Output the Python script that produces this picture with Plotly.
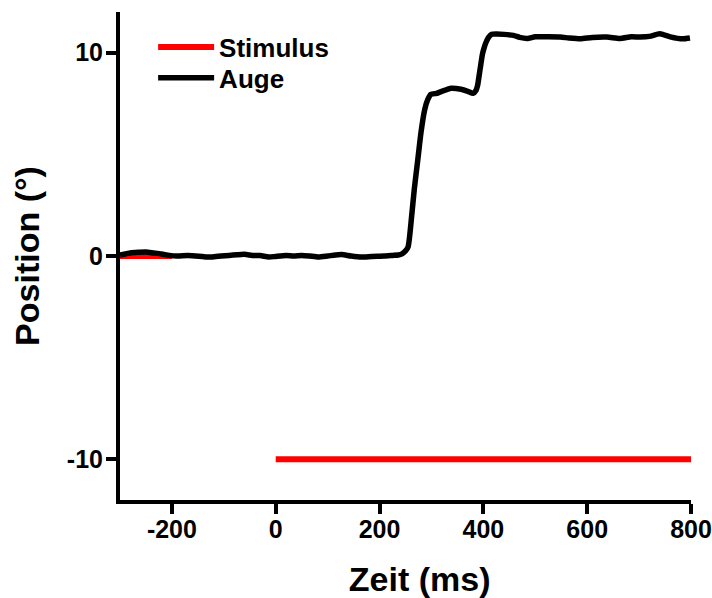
import plotly.graph_objects as go

# Stimulus trace (ms, degrees); None marks the gap
stim_t = [-300, -200, None, 0, 800]
stim_pos = [0, 0, None, -10, -10]

# Eye trace (ms, degrees)
eye_t = [-300, -290, -280, -265, -250, -235, -220, -205, -190, -170, -155, -140,
         -123, -105, -90, -75, -60, -45, -30, -13, 0, 20, 35, 50, 65, 82, 100,
         115, 127, 145, 165, 185, 209, 225, 236, 244, 250, 255, 262, 267, 274,
         280, 287, 293, 299, 310, 320, 338, 357, 370, 380, 386, 389, 392, 395,
         398, 401, 405, 410, 416, 425, 440, 458, 470, 485, 500, 523, 548, 565,
         587, 610, 638, 663, 685, 702, 720, 740, 760, 784, 798]
eye_pos = [0.05, 0.10, 0.15, 0.18, 0.20, 0.15, 0.10, 0.03, 0.00, 0.02, 0.00, -0.03,
           -0.05, 0.00, 0.03, 0.06, 0.08, 0.03, 0.02, -0.05, -0.02, 0.02, 0.00, 0.03,
           0.00, -0.05, 0.00, 0.05, 0.07, 0.00, -0.05, -0.02, 0.00, 0.03, 0.05, 0.12,
           0.25, 0.45, 2.0, 3.3, 4.8, 6.1, 7.2, 7.7, 7.95, 8.0, 8.1, 8.25, 8.2, 8.1,
           8.0, 8.15, 8.4, 8.9, 9.4, 9.9, 10.2, 10.5, 10.75, 10.9, 10.92, 10.9, 10.85,
           10.75, 10.7, 10.78, 10.78, 10.77, 10.72, 10.68, 10.75, 10.77, 10.7, 10.78,
           10.77, 10.8, 10.93, 10.78, 10.68, 10.72]

x_ticks = [-200, 0, 200, 400, 600, 800]
x_ticktext = ["-200", "0", "200", "400", "600", "800"]
y_ticks = [-10, 0, 10]
y_ticktext = ["-10", "0", "10"]

FONT = "Liberation Sans, Arial, sans-serif"

fig = go.Figure()
fig.add_trace(go.Scatter(x=stim_t, y=stim_pos, mode="lines", name="Stimulus",
                         line=dict(color="#ff0000", width=6), connectgaps=False,
                         legend="legend"))
fig.add_trace(go.Scatter(x=eye_t, y=eye_pos, mode="lines", name="Auge",
                         line=dict(color="#000000", width=5.5, shape="spline", smoothing=0.6),
                         legend="legend2"))

axis_common = dict(showgrid=False, zeroline=False, showline=True, linecolor="black",
                   linewidth=4, ticks="outside", ticklen=10, tickwidth=4, tickcolor="black",
                   automargin=False,
                   tickfont=dict(family=FONT, size=25, color="black", weight="bold"))

fig.update_xaxes(range=[-300, 800], tickvals=x_ticks, ticktext=x_ticktext,
                 ticklabelstandoff=-6,
                 title=dict(text="&nbsp;&nbsp;&nbsp;Zeit (ms)",
                            font=dict(family=FONT, size=34, color="black", weight="bold"),
                            standoff=26),
                 **axis_common)
fig.update_yaxes(range=[-12, 12], tickvals=y_ticks, ticktext=y_ticktext,
                 ticklabelstandoff=-2,
                 title=dict(text="Position (°)",
                            font=dict(family=FONT, size=34, color="black", weight="bold"),
                            standoff=18),
                 **axis_common)

leg_common = dict(xanchor="left", yanchor="middle",
                  font=dict(family=FONT, size=26, color="black", weight="bold"),
                  bgcolor="rgba(0,0,0,0)", itemwidth=56)

fig.update_layout(
    width=712, height=598,
    margin=dict(l=120, r=21, t=12, b=98),
    paper_bgcolor="white", plot_bgcolor="white",
    showlegend=True,
    legend=dict(x=0.058, y=0.928, **leg_common),
    legend2=dict(x=0.058, y=0.865, **leg_common),
)

# remove the default page margin so the figure sits at the window's corner
page_fix = ("document.body.style.margin='0';"
            "document.body.style.overflow='hidden';"
            "document.documentElement.style.overflow='hidden';")

fig.write_html("out.html", post_script=page_fix, config={"displayModeBar": False})
